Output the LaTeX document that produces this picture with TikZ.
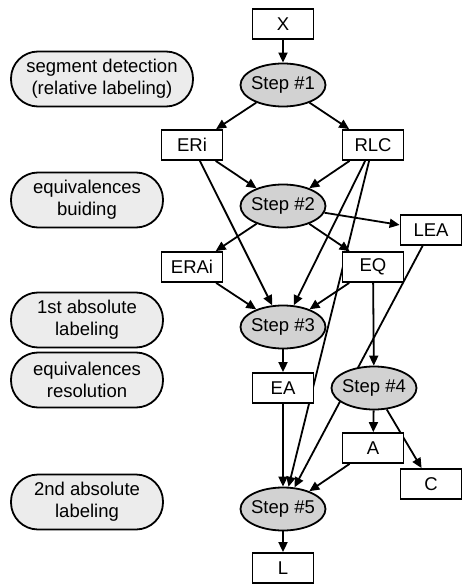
\documentclass[tikz,border=0pt]{standalone}
\usepackage{fontspec}
\setmainfont{Liberation Sans}
\usetikzlibrary{arrows.meta, shapes.geometric, backgrounds}

\begin{document}
\begin{tikzpicture}[
  x=1pt, y=-1pt,
  >={Triangle[length=10pt, width=9pt]},
  every node/.style={font=\fontsize{18.5}{22}\selectfont},
  data/.style={draw, line width=1.8pt, fill=white,
    minimum width=61pt, minimum height=30pt, inner sep=0pt},
  stepnode/.style={draw, ellipse, line width=1.8pt, fill=gray!35,
    minimum width=85pt, minimum height=43pt, inner xsep=-3pt, inner ysep=0pt},
  phase/.style={draw, line width=1.8pt, fill=gray!15, rounded corners=27pt,
    minimum width=#1, minimum height=55pt, align=center, inner sep=0pt},
  phase/.default=152pt,
  flow/.style={->, line width=1.8pt}
]
\useasboundingbox (0,0) rectangle (462,585);

% Phase labels
\node[phase=182pt] (ph1) at (102,79) {segment detection\\(relative labeling)};
\node[phase] (ph2) at (87,200) {equivalences\\buiding};
\node[phase] (ph3) at (87,320) {1st absolute\\labeling};
\node[phase] (ph4) at (87,380) {equivalences\\resolution};
\node[phase] (ph5) at (87,502) {2nd absolute\\labeling};

% Steps
\node[stepnode] (S1) at (283,85) {Step \#1};
\node[stepnode] (S2) at (283,206) {Step \#2};
\node[stepnode] (S3) at (283,327) {Step \#3};
\node[stepnode] (S4) at (374,388) {Step \#4};
\node[stepnode] (S5) at (283,509) {Step \#5};

% Data
\node[data] (X) at (283,24) {X};
\node[data] (ERi) at (192,145) {ERi};
\node[data] (RLC) at (373,145) {RLC};
\node[data] (LEA) at (431,230) {LEA};
\node[data] (ERAi) at (192,267) {ERAi};
\node[data] (EQ) at (373,267) {EQ};
\node[data] (EA) at (283,388) {EA};
\node[data] (A) at (373,448) {A};
\node[data] (C) at (431,484) {C};
\node[data] (L) at (283,568) {L};

% Connections
\begin{scope}[on background layer]
\foreach \a/\b in {X/S1, S1/ERi, S1/RLC, ERi/S2, RLC/S2, ERi/S3, RLC/S3,
    RLC/S5, S2/LEA, S2/ERAi, S2/EQ, ERAi/S3, EQ/S3, EQ/S4, LEA/S5,
    S3/EA, EA/S5, S4/A, S4/C, A/S5, S5/L} {
  \draw[flow] (\a) -- (\b);
}
\end{scope}

\end{tikzpicture}
\end{document}
